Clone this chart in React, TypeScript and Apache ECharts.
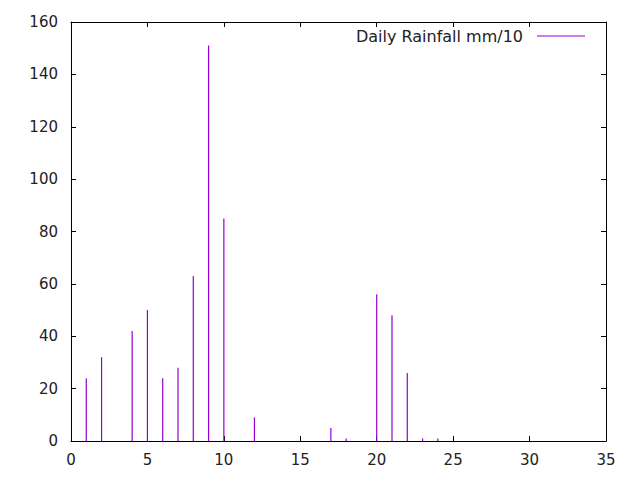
import React, { useEffect, useRef } from 'react';
import * as echarts from 'echarts';

// day of month and rainfall (mm/10)
const days = [1, 2, 4, 5, 6, 7, 8, 9, 10, 12, 17, 18, 20, 21, 22, 23, 24];
const rain = [24, 32, 42, 50, 24, 28, 63, 151, 85, 9, 5, 1, 56, 48, 26, 1, 1];

const seriesName = 'Daily Rainfall mm/10';
const xRange = { min: 0, max: 35, interval: 5 };
const yRange = { min: 0, max: 160, interval: 20 };

const FONT = '"DejaVu Sans", sans-serif';

const App: React.FC = () => {
  const chartRef = useRef<HTMLDivElement>(null);

  useEffect(() => {
    document.body.style.margin = '0';
    if (!chartRef.current) return;

    const chart = echarts.init(chartRef.current, undefined, { renderer: 'svg' });

    const tick = { show: true, inside: true, length: 5, lineStyle: { color: '#000', width: 1 } };
    const line = { show: true, onZero: false, lineStyle: { color: '#000', width: 1 } };
    const label = { color: '#222', fontSize: 15, fontFamily: FONT };

    const option: echarts.EChartsOption = {
      animation: false,
      backgroundColor: '#fff',
      grid: { left: 71, right: 34, top: 22, bottom: 39, containLabel: false },
      legend: {
        right: 55,
        top: 28,
        padding: 0,
        align: 'right',
        icon: 'rect',
        itemWidth: 48,
        itemHeight: 1,
        textStyle: { color: '#222', fontSize: 16, fontFamily: FONT, lineHeight: 16, padding: [0, 9, 0, 0] },
        data: [seriesName],
      },
      xAxis: [
        {
          type: 'value',
          ...xRange,
          position: 'bottom',
          axisLine: line,
          axisTick: tick,
          splitLine: { show: false },
          axisLabel: { ...label, margin: 11 },
        },
        {
          type: 'value',
          ...xRange,
          position: 'top',
          axisLine: line,
          axisTick: tick,
          splitLine: { show: false },
          axisLabel: { show: false },
        },
      ],
      yAxis: [
        {
          type: 'value',
          ...yRange,
          position: 'left',
          axisLine: line,
          axisTick: tick,
          splitLine: { show: false },
          axisLabel: { ...label, margin: 13 },
        },
        {
          type: 'value',
          ...yRange,
          position: 'right',
          axisLine: line,
          axisTick: tick,
          splitLine: { show: false },
          axisLabel: { show: false },
        },
      ],
      series: [
        {
          name: seriesName,
          type: 'bar',
          xAxisIndex: 0,
          yAxisIndex: 0,
          barWidth: 1.2,
          itemStyle: { color: '#9400d3' },
          data: days.map((d, i) => [d, rain[i]]),
        },
      ],
    };

    chart.setOption(option);

    return () => {
      chart.dispose();
    };
  }, []);

  return <div ref={chartRef} style={{ width: '640px', height: '480px' }} />;
};

export default App;
